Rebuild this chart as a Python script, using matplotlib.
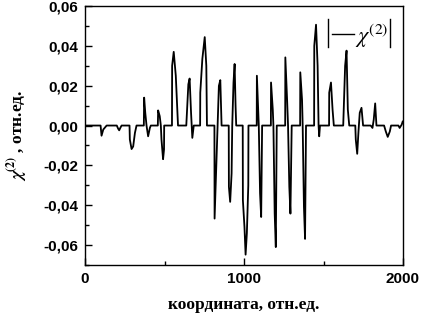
import matplotlib
matplotlib.use("Agg")
import matplotlib.pyplot as plt
from matplotlib.ticker import MultipleLocator, FuncFormatter

# coordinate along the structure and chi(2)
coord = [0, 98, 104, 115, 136, 200, 208, 215, 222, 230,
         280, 282, 293, 303, 314, 324,
         370, 372, 379, 387, 397, 408, 414,
         458, 460, 470, 477, 481, 491, 497, 498,
         547, 548, 558, 571, 585,
         637, 650, 658, 667, 675, 684,
         724, 725, 738, 753, 763, 767,
         814, 815, 826, 834, 842, 851, 859,
         904, 905, 913, 922, 926, 934, 941, 947, 951,
         992, 993, 1003, 1010, 1018, 1027, 1028,
         1080, 1081, 1089, 1093, 1101, 1108, 1114,
         1169, 1170, 1181, 1185, 1193, 1200, 1206,
         1259, 1260, 1271, 1277, 1285, 1292, 1300,
         1353, 1354, 1365, 1369, 1377, 1384, 1390,
         1441, 1442, 1453, 1463, 1469, 1473, 1478,
         1535, 1536, 1547, 1557, 1565,
         1624, 1636, 1645, 1653, 1662,
         1700, 1703, 1712, 1720, 1728, 1739, 1749,
         1797, 1808, 1816, 1825, 1833,
         1881, 1892, 1904, 1917, 1925,
         1971, 1979, 1992, 1998]
chi2 = [0, 0, -0.0051, -0.002, 0, 0, -0.0015, -0.0024, -0.0012, 0,
        0, -0.007, -0.0118, -0.0105, -0.0037, 0,
        0, 0.014, 0.0064, 0, -0.0054, -0.0012, 0,
        0, 0.0076, 0.0047, 0, -0.007, -0.0169, -0.012, 0,
        0, 0.030, 0.037, 0.025, 0,
        0, 0.0207, 0.0236, 0.0064, -0.0062, 0,
        0, 0.0165, 0.0334, 0.0444, 0.030, 0,
        0, -0.0467, -0.0206, 0, 0.0199, 0.0228, 0,
        0, -0.0307, -0.0383, -0.024, 0, 0.0216, 0.0309, 0.0098, 0,
        0, -0.0375, -0.051, -0.0648, -0.054, -0.030, 0,
        0, 0.025, 0.008, 0, -0.034, -0.0459, 0,
        0, 0.0216, 0.008, 0, -0.0442, -0.061, 0,
        0, 0.0342, 0.013, 0, -0.0307, -0.0442, 0,
        0, 0.0267, 0.013, 0, -0.0408, -0.0569, 0,
        0, 0.040, 0.0506, 0.030, 0, -0.0054, 0,
        0, 0.0165, 0.0216, 0.008, 0,
        0, 0.030, 0.0376, 0.008, 0,
        0, -0.007, -0.0142, -0.003, 0.0064, 0.0089, 0,
        0, -0.0012, 0.003, 0.0111, 0,
        0, -0.003, -0.0057, -0.003, 0,
        0, -0.0012, 0.0005, 0.002]

plt.rcParams['mathtext.fontset'] = 'stix'

fig = plt.figure(figsize=(4.23, 3.17), dpi=100)
ax = fig.add_axes([85 / 423, 1 - 265 / 317, 318 / 423, 259 / 317])

ax.plot(coord, chi2, color='black', lw=1.3)
ax.set_xlim(0, 2000)
ax.set_ylim(-0.07, 0.06)

ax.xaxis.set_major_locator(MultipleLocator(1000))
ax.xaxis.set_minor_locator(MultipleLocator(500))
ax.yaxis.set_major_locator(MultipleLocator(0.02))
ax.yaxis.set_minor_locator(MultipleLocator(0.01))
ax.yaxis.set_major_formatter(FuncFormatter(lambda v, p: f"{v:.2f}".replace('.', ',').replace('-0,00', '0,00')))
ax.tick_params(which='both', direction='in', top=False, right=False, width=1)
ax.tick_params(which='major', length=5, labelsize=11, pad=5)
ax.tick_params(which='minor', length=3)
for lab in ax.get_xticklabels() + ax.get_yticklabels():
    lab.set_fontfamily('Liberation Sans')
    lab.set_fontweight('bold')
for s in ax.spines.values():
    s.set_linewidth(1.0)

ax.set_xlabel('координата, отн.ед.', family='Liberation Serif', fontweight='bold', fontsize=12.5, labelpad=8)
ax.set_ylabel(r'$\boldsymbol{\chi}^{\mathbf{(2)}}$ , отн.ед.', family='Liberation Serif',
              fontweight='bold', fontsize=12.5, labelpad=10)

# legend entry drawn like the original: |—— chi(2)|
ax.plot([0.764, 0.764], [0.84, 0.95], transform=ax.transAxes, color='black', lw=1.0)
ax.plot([0.959, 0.959], [0.84, 0.95], transform=ax.transAxes, color='black', lw=1.0)
ax.plot([0.776, 0.845], [0.893, 0.893], transform=ax.transAxes, color='black', lw=1.0)
ax.text(0.85, 0.885, r'$\chi^{(2)}$', transform=ax.transAxes, fontsize=16, va='center', ha='left')

fig.savefig('out.png', dpi=100)
